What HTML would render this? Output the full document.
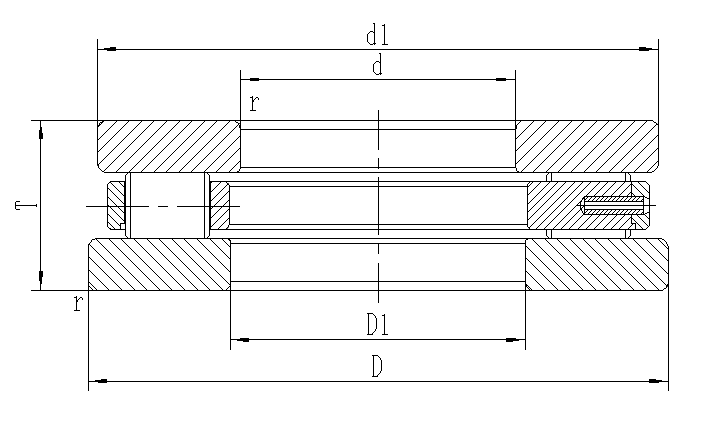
<!DOCTYPE html>
<html><head><meta charset="utf-8"><title>Thrust bearing drawing</title>
<style>
html,body{margin:0;padding:0;background:#fff;width:708px;height:422px;overflow:hidden;font-family:"Liberation Sans",sans-serif;}
svg{display:block}
</style></head><body>
<svg width="708" height="422" viewBox="0 0 708 422">
<defs><clipPath id="c1"><path d="M97 121H236Q240 121 240 125V168Q240 172 236 172H105Q97 172 97 164Z"/></clipPath><clipPath id="c2"><path d="M516 121H652Q658 121 658 127V165Q658 172 651 172H519Q516 172 516 168Z"/></clipPath><clipPath id="c3"><path d="M89 245Q89 239 95 239H226Q230 239 230 243V286Q230 290 226 290H89Z"/></clipPath><clipPath id="c4"><path d="M526 243Q526 239 530 239H660Q668 239 668 247V285Q668 290 662 290H530Q526 290 526 286Z"/></clipPath><clipPath id="c5"><path d="M108 185Q108 182 111 182H124V223H120V229H111Q108 229 108 226Z"/></clipPath><clipPath id="c6"><path d="M211 182H226Q229 182 229 185V225Q229 229 226 229H211Z"/></clipPath><clipPath id="c7"><path d="M528 185Q528 182 531 182H631V196H584V215H631V224H635V229H531Q528 229 528 226Z"/></clipPath><clipPath id="c8"><path d="M632 182H645Q649 182 649 185V198H644V196H632ZM632 215H644V213H649V224Q649 229 644 229H636V223H632Z"/></clipPath><clipPath id="c9"><path d="M585 197H643V201H585Z"/></clipPath><clipPath id="c10"><path d="M585 210H643V214H585Z"/></clipPath></defs>
<rect width="708" height="422" fill="#fff"/>
<g fill="none" stroke="#000" stroke-width="1" shape-rendering="crispEdges">
<path clip-path="url(#c1)" stroke-width="1" d="M25.00 175L82.00 118M38.00 175L95.00 118M50.00 175L107.00 118M63.00 175L120.00 118M75.00 175L132.00 118M88.00 175L145.00 118M100.00 175L157.00 118M113.00 175L170.00 118M126.00 175L183.00 118M138.00 175L195.00 118M151.00 175L208.00 118M163.00 175L220.00 118M176.00 175L233.00 118M188.00 175L245.00 118M201.00 175L258.00 118M213.00 175L270.00 118M226.00 175L283.00 118M239.00 175L296.00 118M251.00 175L308.00 118M264.00 175L321.00 118"/><path clip-path="url(#c2)" stroke-width="1" d="M442.00 175L499.00 118M455.00 175L512.00 118M467.00 175L524.00 118M480.00 175L537.00 118M492.00 175L549.00 118M505.00 175L562.00 118M518.00 175L575.00 118M530.00 175L587.00 118M543.00 175L600.00 118M555.00 175L612.00 118M568.00 175L625.00 118M581.00 175L638.00 118M593.00 175L650.00 118M606.00 175L663.00 118M618.00 175L675.00 118M631.00 175L688.00 118M644.00 175L701.00 118M656.00 175L713.00 118M669.00 175L726.00 118M681.00 175L738.00 118"/><path clip-path="url(#c3)" stroke-width="1" d="M17.00 236L74.00 293M30.00 236L87.00 293M43.00 236L100.00 293M55.00 236L112.00 293M68.00 236L125.00 293M81.00 236L138.00 293M93.00 236L150.00 293M106.00 236L163.00 293M118.00 236L175.00 293M131.00 236L188.00 293M144.00 236L201.00 293M156.00 236L213.00 293M169.00 236L226.00 293M181.00 236L238.00 293M194.00 236L251.00 293M207.00 236L264.00 293M219.00 236L276.00 293M232.00 236L289.00 293M244.00 236L301.00 293"/><path clip-path="url(#c4)" stroke-width="1" d="M453.00 236L510.00 293M466.00 236L523.00 293M478.00 236L535.00 293M491.00 236L548.00 293M504.00 236L561.00 293M516.00 236L573.00 293M529.00 236L586.00 293M542.00 236L599.00 293M554.00 236L611.00 293M567.00 236L624.00 293M580.00 236L637.00 293M592.00 236L649.00 293M605.00 236L662.00 293M617.00 236L674.00 293M630.00 236L687.00 293M643.00 236L700.00 293M655.00 236L712.00 293M668.00 236L725.00 293M681.00 236L738.00 293"/><path clip-path="url(#c5)" stroke-width="1" d="M47.00 179L100.00 232M56.00 179L109.00 232M65.00 179L118.00 232M73.00 179L126.00 232M82.00 179L135.00 232M90.00 179L143.00 232M99.00 179L152.00 232M107.00 179L160.00 232M116.00 179L169.00 232M125.00 179L178.00 232M133.00 179L186.00 232"/><path clip-path="url(#c6)" stroke-width="1" d="M144.00 232L197.00 179M153.00 232L206.00 179M162.00 232L215.00 179M171.00 232L224.00 179M180.00 232L233.00 179M188.00 232L241.00 179M197.00 232L250.00 179M206.00 232L259.00 179M215.00 232L268.00 179M224.00 232L277.00 179M232.00 232L285.00 179M241.00 232L294.00 179"/><path clip-path="url(#c7)" stroke-width="1" d="M466.00 232L519.00 179M475.00 232L528.00 179M483.00 232L536.00 179M491.00 232L544.00 179M500.00 232L553.00 179M508.00 232L561.00 179M516.00 232L569.00 179M525.00 232L578.00 179M533.00 232L586.00 179M541.00 232L594.00 179M550.00 232L603.00 179M558.00 232L611.00 179M566.00 232L619.00 179M575.00 232L628.00 179M583.00 232L636.00 179M591.00 232L644.00 179M600.00 232L653.00 179M608.00 232L661.00 179M616.00 232L669.00 179M625.00 232L678.00 179M633.00 232L686.00 179M641.00 232L694.00 179M650.00 232L703.00 179"/><path clip-path="url(#c8)" stroke-width="1" d="M567.00 179L620.00 232M575.00 179L628.00 232M584.00 179L637.00 232M593.00 179L646.00 232M601.00 179L654.00 232M609.00 179L662.00 232M618.00 179L671.00 232M627.00 179L680.00 232M635.00 179L688.00 232M643.00 179L696.00 232M652.00 179L705.00 232M661.00 179L714.00 232"/><path clip-path="url(#c9)" stroke-width="1" d="M569.00 204L579.00 194M573.00 204L583.00 194M577.00 204L587.00 194M581.00 204L591.00 194M585.00 204L595.00 194M589.00 204L599.00 194M593.00 204L603.00 194M597.00 204L607.00 194M601.00 204L611.00 194M605.00 204L615.00 194M609.00 204L619.00 194M613.00 204L623.00 194M617.00 204L627.00 194M621.00 204L631.00 194M625.00 204L635.00 194M629.00 204L639.00 194M633.00 204L643.00 194M638.00 204L648.00 194M642.00 204L652.00 194M646.00 204L656.00 194M650.00 204L660.00 194"/><path clip-path="url(#c10)" stroke-width="1" d="M569.00 217L579.00 207M573.00 217L583.00 207M577.00 217L587.00 207M581.00 217L591.00 207M585.00 217L595.00 207M589.00 217L599.00 207M593.00 217L603.00 207M597.00 217L607.00 207M601.00 217L611.00 207M605.00 217L615.00 207M609.00 217L619.00 207M613.00 217L623.00 207M617.00 217L627.00 207M621.00 217L631.00 207M625.00 217L635.00 207M629.00 217L639.00 207M633.00 217L643.00 207M638.00 217L648.00 207M642.00 217L652.00 207M646.00 217L656.00 207M650.00 217L660.00 207"/>
</g>
<g fill="none" stroke="#000" stroke-width="1" shape-rendering="crispEdges">
<path d="M97 49.5H659"/><path fill="#000" stroke="none" d="M104 48 L110 48 L110 47 L116 47 L116 51 L107 51 L107 50 L104 50Z"/><path fill="#000" stroke="none" d="M652 48 L646 48 L646 47 L639 47 L639 51 L649 51 L649 50 L652 50Z"/><path d="M240 79.5H516"/><path fill="#000" stroke="none" d="M250 78 L259 78 L259 81 L250 81Z"/><path fill="#000" stroke="none" d="M496 78 L506 78 L506 81 L496 81Z"/><path d="M40.5 120V291"/><path fill="#000" stroke="none" d="M40 127 L42 127 L42 133 L43 133 L43 139 L39 139 L39 130 L40 130Z"/><path fill="#000" stroke="none" d="M39 271 L43 271 L43 277 L42 277 L42 284 L40 284 L40 281 L39 281Z"/><path d="M230 339.5H526"/><path fill="#000" stroke="none" d="M237 339 L240 339 L240 338 L249 338 L249 342 L243 342 L243 341 L237 341Z"/><path fill="#000" stroke="none" d="M519 339 L516 339 L516 338 L506 338 L506 342 L513 342 L513 341 L519 341Z"/><path d="M88 381.5H669"/><path fill="#000" stroke="none" d="M95 380 L101 380 L101 379 L107 379 L107 383 L98 383 L98 382 L95 382Z"/><path fill="#000" stroke="none" d="M662 380 L656 380 L656 379 L649 379 L649 383 L659 383 L659 382 L662 382Z"/><path d="M97.5 39V165"/><path d="M658.5 39V166"/><path d="M240.5 70V168"/><path d="M515.5 70V168"/><path d="M31 120.5H653"/><path d="M240 129.5H516"/><path d="M240 167.5H516"/><path d="M104 172.5H652"/><path d="M31 290.5H663"/><path d="M88.5 244V391"/><path d="M668.5 246V391"/><path d="M95 238.5H662"/><path d="M230 243.5H526"/><path d="M230 281.5H526"/><path d="M230.5 240V350"/><path d="M525.5 240V350"/><path stroke-linecap="square" stroke-linejoin="miter" d="M103.5 121.5 L102.5 121.5 L101.5 122.5 L100.5 122.5 L99.5 123.5 L99.5 124.5 L98.5 125.5 L98.5 126.5"/><path stroke-linecap="square" stroke-linejoin="miter" d="M235.5 121.5 L236.5 122.5 L237.5 122.5 L238.5 123.5 L238.5 124.5 L239.5 125.5 L239.5 127.5"/><path stroke-linecap="square" stroke-linejoin="miter" d="M240.5 168.5 L239.5 169.5 L239.5 170.5 L238.5 171.5 L237.5 171.5"/><path stroke-linecap="square" stroke-linejoin="miter" d="M98.5 165.5 L98.5 167.5 L102.5 171.5 L103.5 171.5"/><path stroke-linecap="square" stroke-linejoin="miter" d="M520.5 121.5 L516.5 125.5 L516.5 128.5"/><path stroke-linecap="square" stroke-linejoin="miter" d="M653.5 121.5 L654.5 122.5 L655.5 122.5 L656.5 123.5 L657.5 124.5"/><path stroke-linecap="square" stroke-linejoin="miter" d="M657.5 166.5 L657.5 167.5 L653.5 171.5 L652.5 171.5"/><path stroke-linecap="square" stroke-linejoin="miter" d="M516.5 168.5 L516.5 170.5 L517.5 171.5 L518.5 171.5"/><path stroke-linecap="square" stroke-linejoin="miter" d="M94.5 239.5 L92.5 239.5 L91.5 240.5 L91.5 241.5 L88.5 244.5"/><path stroke-linecap="square" stroke-linejoin="miter" d="M228.5 239.5 L229.5 239.5 L229.5 240.5"/><path stroke-linecap="square" stroke-linejoin="miter" d="M229.5 286.5 L226.5 289.5"/><path stroke-linecap="square" stroke-linejoin="miter" d="M89.5 286.5 L92.5 289.5"/><path stroke-linecap="square" stroke-linejoin="miter" d="M525.5 240.5 L526.5 239.5 L527.5 239.5"/><path stroke-linecap="square" stroke-linejoin="miter" d="M662.5 239.5 L663.5 239.5 L665.5 241.5 L666.5 242.5 L666.5 243.5 L667.5 244.5 L667.5 245.5"/><path stroke-linecap="square" stroke-linejoin="miter" d="M667.5 284.5 L667.5 285.5 L666.5 286.5 L666.5 287.5 L665.5 288.5 L664.5 288.5 L663.5 289.5"/><path stroke-linecap="square" stroke-linejoin="miter" d="M526.5 284.5 L526.5 286.5 L529.5 289.5"/><path d="M107.5 184V227"/><path stroke-linecap="square" stroke-linejoin="miter" d="M110.5 181.5 L109.5 182.5 L108.5 183.5"/><path d="M110 181.5H125"/><path stroke-linecap="square" stroke-linejoin="miter" d="M108.5 227.5 L109.5 228.5 L110.5 228.5"/><path d="M110 229.5H125"/><path d="M124.5 181V224"/><path d="M120 223.5H125"/><path d="M120.5 223V230"/><path d="M125.5 175V236"/><path stroke-linecap="square" stroke-linejoin="miter" d="M125.5 175.5 L126.5 174.5 L127.5 173.5 L128.5 172.5"/><path stroke-linecap="square" stroke-linejoin="miter" d="M125.5 235.5 L126.5 236.5 L127.5 237.5 L128.5 238.5"/><path d="M130.5 172V239"/><path d="M204.5 172V239"/><path d="M209.5 175V236"/><path stroke-linecap="square" stroke-linejoin="miter" d="M209.5 175.5 L208.5 174.5 L207.5 173.5 L207.5 172.5"/><path stroke-linecap="square" stroke-linejoin="miter" d="M209.5 235.5 L208.5 236.5 L207.5 237.5 L206.5 238.5"/><path d="M210.5 181V230"/><path d="M210 181.5H646"/><path d="M210 229.5H646"/><path stroke-linecap="square" stroke-linejoin="miter" d="M226.5 182.5 L227.5 183.5 L228.5 184.5"/><path d="M229.5 185V225"/><path stroke-linecap="square" stroke-linejoin="miter" d="M228.5 225.5 L228.5 226.5 L227.5 227.5 L226.5 228.5"/><path d="M229 186.5H528"/><path d="M229 224.5H528"/><path d="M527.5 184V227"/><path stroke-linecap="square" stroke-linejoin="miter" d="M528.5 183.5 L529.5 182.5"/><path stroke-linecap="square" stroke-linejoin="miter" d="M528.5 227.5 L529.5 228.5"/><path stroke-linecap="square" stroke-linejoin="miter" d="M646.5 182.5 L647.5 183.5 L648.5 184.5"/><path d="M649.5 185V226"/><path stroke-linecap="square" stroke-linejoin="miter" d="M648.5 226.5 L647.5 227.5 L646.5 228.5"/><path d="M631.5 181V197"/><path d="M631.5 214V224"/><path d="M631 223.5H636"/><path d="M635.5 223V230"/><path d="M584 196.5H644"/><path d="M584 214.5H644"/><path d="M584.5 196V215"/><path d="M643.5 196V215"/><path d="M584 201.5H644"/><path d="M584 209.5H644"/><path stroke-linecap="square" stroke-linejoin="miter" d="M645.5 197.5 L646.5 197.5 L647.5 198.5 L648.5 198.5"/><path stroke-linecap="square" stroke-linejoin="miter" d="M645.5 213.5 L646.5 213.5 L647.5 212.5 L648.5 212.5"/><path stroke-linecap="square" stroke-linejoin="miter" d="M583.5 197.5 L581.5 200.5 L580.5 202.5 L580.5 208.5 L581.5 210.5 L583.5 213.5"/><path d="M551.5 172V182"/><path d="M625.5 172V182"/><path d="M546.5 175V182"/><path stroke-linecap="square" stroke-linejoin="miter" d="M546.5 175.5 L547.5 174.5 L548.5 173.5 L549.5 172.5"/><path d="M630.5 175V182"/><path stroke-linecap="square" stroke-linejoin="miter" d="M630.5 175.5 L629.5 174.5 L628.5 173.5 L627.5 172.5"/><path d="M551.5 229V239"/><path d="M625.5 229V239"/><path d="M546.5 229V236"/><path stroke-linecap="square" stroke-linejoin="miter" d="M546.5 235.5 L547.5 236.5 L548.5 237.5 L549.5 238.5"/><path d="M630.5 229V236"/><path stroke-linecap="square" stroke-linejoin="miter" d="M630.5 235.5 L629.5 236.5 L628.5 237.5 L627.5 238.5"/><path d="M378.5 110V150"/><path d="M378.5 158V169"/><path d="M378.5 177V235"/><path d="M378.5 243V254"/><path d="M378.5 263V303"/><path d="M86 206.5H149"/><path d="M158 206.5H168"/><path d="M177 206.5H240"/><path d="M577 205.5H656"/><path stroke-linecap="square" stroke-linejoin="miter" d="M373.5 23.5 L374.5 23.5 L374.5 44.5"/><path stroke-linecap="square" stroke-linejoin="miter" d="M373.5 32.5 L372.5 31.5 L370.5 31.5 L367.5 34.5 L367.5 41.5 L370.5 44.5 L372.5 44.5 L373.5 43.5"/><path stroke-linecap="square" stroke-linejoin="miter" d="M375.5 43.5 L375.5 43.5"/><path stroke-linecap="square" stroke-linejoin="miter" d="M382.5 25.5 L383.5 25.5"/><path stroke-linecap="square" stroke-linejoin="miter" d="M384.5 24.5 L384.5 44.5"/><path stroke-linecap="square" stroke-linejoin="miter" d="M382.5 44.5 L387.5 44.5"/><path stroke-linecap="square" stroke-linejoin="miter" d="M379.5 53.5 L380.5 53.5 L380.5 74.5"/><path stroke-linecap="square" stroke-linejoin="miter" d="M379.5 62.5 L378.5 61.5 L376.5 61.5 L373.5 64.5 L373.5 71.5 L376.5 74.5 L378.5 74.5 L379.5 73.5"/><path stroke-linecap="square" stroke-linejoin="miter" d="M381.5 73.5 L381.5 73.5"/><path stroke-linecap="square" stroke-linejoin="miter" d="M367.5 313.5 L372.5 313.5 L373.5 314.5 L374.5 315.5 L375.5 316.5 L375.5 317.5 L376.5 318.5 L376.5 328.5 L375.5 329.5 L375.5 330.5 L374.5 331.5 L373.5 332.5 L372.5 333.5 L372.5 334.5 L367.5 334.5"/><path stroke-linecap="square" stroke-linejoin="miter" d="M368.5 313.5 L368.5 334.5"/><path stroke-linecap="square" stroke-linejoin="miter" d="M382.5 315.5 L383.5 315.5"/><path stroke-linecap="square" stroke-linejoin="miter" d="M384.5 314.5 L384.5 334.5"/><path stroke-linecap="square" stroke-linejoin="miter" d="M382.5 334.5 L387.5 334.5"/><path stroke-linecap="square" stroke-linejoin="miter" d="M372.5 355.5 L377.5 355.5 L378.5 356.5 L379.5 357.5 L380.5 358.5 L380.5 359.5 L381.5 360.5 L381.5 370.5 L380.5 371.5 L380.5 372.5 L379.5 373.5 L378.5 374.5 L377.5 375.5 L377.5 376.5 L372.5 376.5"/><path stroke-linecap="square" stroke-linejoin="miter" d="M373.5 355.5 L373.5 376.5"/><path stroke-linecap="square" stroke-linejoin="miter" d="M250.5 97.5 L251.5 97.5"/><path stroke-linecap="square" stroke-linejoin="miter" d="M252.5 96.5 L252.5 110.5"/><path stroke-linecap="square" stroke-linejoin="miter" d="M250.5 110.5 L255.5 110.5"/><path stroke-linecap="square" stroke-linejoin="miter" d="M253.5 101.5 L253.5 100.5 L256.5 97.5 L257.5 97.5 L258.5 98.5 L258.5 99.5"/><path stroke-linecap="square" stroke-linejoin="miter" d="M74.5 297.5 L75.5 297.5"/><path stroke-linecap="square" stroke-linejoin="miter" d="M76.5 296.5 L76.5 310.5"/><path stroke-linecap="square" stroke-linejoin="miter" d="M74.5 310.5 L79.5 310.5"/><path stroke-linecap="square" stroke-linejoin="miter" d="M77.5 301.5 L77.5 300.5 L80.5 297.5 L81.5 297.5 L82.5 298.5 L82.5 299.5"/><path stroke-linecap="square" stroke-linejoin="miter" d="M16.5 205.5 L36.5 205.5"/><path stroke-linecap="square" stroke-linejoin="miter" d="M36.5 204.5 L36.5 206.5"/><path stroke-linecap="square" stroke-linejoin="miter" d="M19.5 201.5 L16.5 201.5 L15.5 202.5 L15.5 208.5 L16.5 209.5 L19.5 209.5"/>
</g>
</svg>
</body></html>
